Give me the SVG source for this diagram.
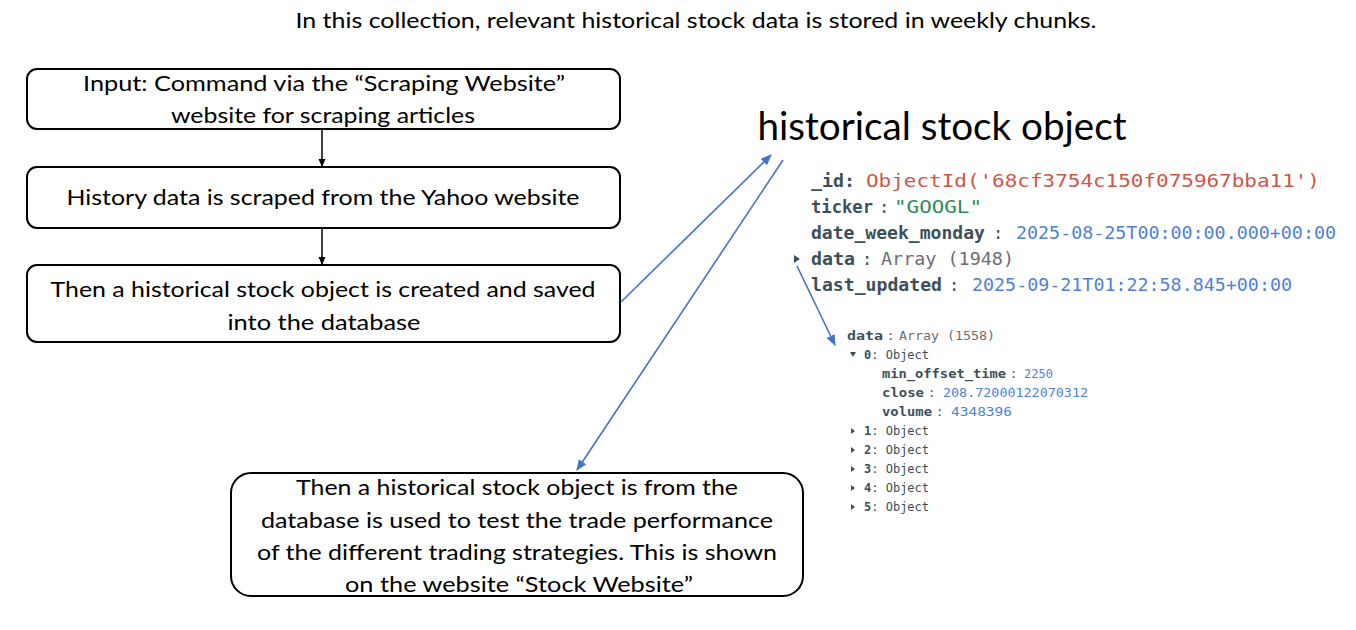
<svg xmlns="http://www.w3.org/2000/svg" width="1356" height="630" viewBox="0 0 1356 630">
<defs>
<marker id="ab" markerWidth="8" markerHeight="8" refX="7" refY="4" orient="auto" markerUnits="userSpaceOnUse"><path d="M0,0.5 L8,4 L0,7.5 Z" fill="#000"/></marker>
<marker id="au" markerWidth="11" markerHeight="10" refX="10" refY="5" orient="auto" markerUnits="userSpaceOnUse"><path d="M0,0.5 L11,5 L0,9.5 Z" fill="#4472C4"/></marker>
</defs>
<style>
.box{fill:#fff;stroke:#000;stroke-width:2}
.t{font-family:Lato,"Open Sans","Liberation Sans",sans-serif;font-size:22px;fill:#000;text-anchor:middle}
.m{font-family:"DejaVu Sans Mono","Liberation Mono",monospace;font-size:17px}
.s{font-family:"DejaVu Sans Mono","Liberation Mono",monospace;font-size:12px}
.k{fill:#3d4f58;font-weight:bold}
.c{fill:#3d4f58}
.red{fill:#cf5647}
.grn{fill:#2f8a5a}
.blu{fill:#4f7fdb}
.gry{fill:#6b6e70}
.tri{fill:#3d4f58}
.bl{stroke:#000;stroke-width:1.5;fill:none}
.up{stroke:#4472C4;stroke-width:1.6;fill:none}
</style>
<rect width="1356" height="630" fill="#fff"/>
<text class="t" x="696" y="28" textLength="801" lengthAdjust="spacingAndGlyphs">In this collection, relevant historical stock data is stored in weekly chunks.</text>

<g id="node-input">
<rect class="box" x="27" y="69" width="593" height="60" rx="10"/>
<text class="t" x="324" y="91" textLength="482" lengthAdjust="spacingAndGlyphs">Input: Command via the “Scraping Website”</text>
<text class="t" x="323" y="123" textLength="304" lengthAdjust="spacingAndGlyphs">website for scraping articles</text>
</g>
<g id="node-scrape">
<rect class="box" x="27" y="167" width="593" height="61" rx="10"/>
<text class="t" x="323" y="205" textLength="513" lengthAdjust="spacingAndGlyphs">History data is scraped from the Yahoo website</text>
</g>
<g id="node-create">
<rect class="box" x="27" y="265" width="593" height="77" rx="10"/>
<text class="t" x="323" y="297" textLength="545" lengthAdjust="spacingAndGlyphs">Then a historical stock object is created and saved</text>
<text class="t" x="324" y="330" textLength="193" lengthAdjust="spacingAndGlyphs">into the database</text>
</g>
<g id="node-test">
<rect class="box" x="231" y="473" width="572" height="123" rx="20"/>
<text class="t" x="517" y="495" textLength="442" lengthAdjust="spacingAndGlyphs">Then a historical stock object is from the</text>
<text class="t" x="517" y="528" textLength="512" lengthAdjust="spacingAndGlyphs">database is used to test the trade performance</text>
<text class="t" x="517" y="560" textLength="520" lengthAdjust="spacingAndGlyphs">of the different trading strategies. This is shown</text>
<text class="t" x="519" y="592" textLength="348" lengthAdjust="spacingAndGlyphs">on the website “Stock Website”</text>
</g>

<g id="node-object">
<text x="942" y="140" style="font-family:Lato,'Open Sans','Liberation Sans',sans-serif;font-size:38px;fill:#000;text-anchor:middle" textLength="369" lengthAdjust="spacingAndGlyphs">historical stock object</text>
<text class="m" y="187"><tspan class="k" x="811" textLength="44" lengthAdjust="spacingAndGlyphs">_id:</tspan><tspan class="red" x="866" textLength="454" lengthAdjust="spacingAndGlyphs">ObjectId('68cf3754c150f075967bba11')</tspan></text>
<text class="m" y="213"><tspan class="k" x="811" textLength="62" lengthAdjust="spacingAndGlyphs">ticker</tspan><tspan class="c" x="879">:</tspan><tspan class="grn" x="894" textLength="88" lengthAdjust="spacingAndGlyphs">"GOOGL"</tspan></text>
<text class="m" y="239"><tspan class="k" x="811" textLength="174" lengthAdjust="spacingAndGlyphs">date_week_monday</tspan><tspan class="c" x="993">:</tspan><tspan class="blu" x="1016" textLength="320" lengthAdjust="spacingAndGlyphs">2025-08-25T00:00:00.000+00:00</tspan></text>
<path class="tri" d="M794,255 L800,259 L794,263 Z"/>
<text class="m" y="265"><tspan class="k" x="811" textLength="44" lengthAdjust="spacingAndGlyphs">data</tspan><tspan class="c" x="862">:</tspan><tspan class="gry" x="881" textLength="133" lengthAdjust="spacingAndGlyphs">Array (1948)</tspan></text>
<text class="m" y="291"><tspan class="k" x="811" textLength="131" lengthAdjust="spacingAndGlyphs">last_updated</tspan><tspan class="c" x="949">:</tspan><tspan class="blu" x="972" textLength="320" lengthAdjust="spacingAndGlyphs">2025-09-21T01:22:58.845+00:00</tspan></text>

<text class="s" y="340"><tspan class="k" x="847" textLength="36" lengthAdjust="spacingAndGlyphs">data</tspan><tspan class="c" x="887">:</tspan><tspan class="gry" x="899" textLength="96" lengthAdjust="spacingAndGlyphs">Array (1558)</tspan></text>
<path class="tri" d="M850,352 L856,352 L853,357 Z"/>
<text class="s" y="359"><tspan class="k" x="864">0</tspan><tspan class="c">: Object</tspan></text>
<text class="s" y="378"><tspan class="k" x="882" textLength="124" lengthAdjust="spacingAndGlyphs">min_offset_time</tspan><tspan class="c" x="1010">:</tspan><tspan class="blu" x="1024">2250</tspan></text>
<text class="s" y="397"><tspan class="k" x="882" textLength="42" lengthAdjust="spacingAndGlyphs">close</tspan><tspan class="c" x="928">:</tspan><tspan class="blu" x="943" textLength="145" lengthAdjust="spacingAndGlyphs">208.72000122070312</tspan></text>
<text class="s" y="416"><tspan class="k" x="882" textLength="50" lengthAdjust="spacingAndGlyphs">volume</tspan><tspan class="c" x="936">:</tspan><tspan class="blu" x="951" textLength="61" lengthAdjust="spacingAndGlyphs">4348396</tspan></text>
<path class="tri" d="M851,428 L855,431 L851,434 Z"/>
<text class="s" y="435"><tspan class="k" x="864">1</tspan><tspan class="c">: Object</tspan></text>
<path class="tri" d="M851,447 L855,450 L851,453 Z"/>
<text class="s" y="454"><tspan class="k" x="864">2</tspan><tspan class="c">: Object</tspan></text>
<path class="tri" d="M851,466 L855,469 L851,472 Z"/>
<text class="s" y="473"><tspan class="k" x="864">3</tspan><tspan class="c">: Object</tspan></text>
<path class="tri" d="M851,485 L855,488 L851,491 Z"/>
<text class="s" y="492"><tspan class="k" x="864">4</tspan><tspan class="c">: Object</tspan></text>
<path class="tri" d="M851,504 L855,507 L851,510 Z"/>
<text class="s" y="511"><tspan class="k" x="864">5</tspan><tspan class="c">: Object</tspan></text>
</g>

<g id="connectors">
<line class="bl" x1="322" y1="129" x2="322" y2="166" marker-end="url(#ab)"/>
<line class="bl" x1="322" y1="228" x2="322" y2="264" marker-end="url(#ab)"/>
<line class="up" x1="621" y1="302" x2="771" y2="155" marker-end="url(#au)"/>
<line class="up" x1="783" y1="160" x2="577" y2="470" marker-end="url(#au)"/>
<line class="up" x1="797" y1="266" x2="835" y2="345" marker-end="url(#au)"/>
</g>
</svg>
